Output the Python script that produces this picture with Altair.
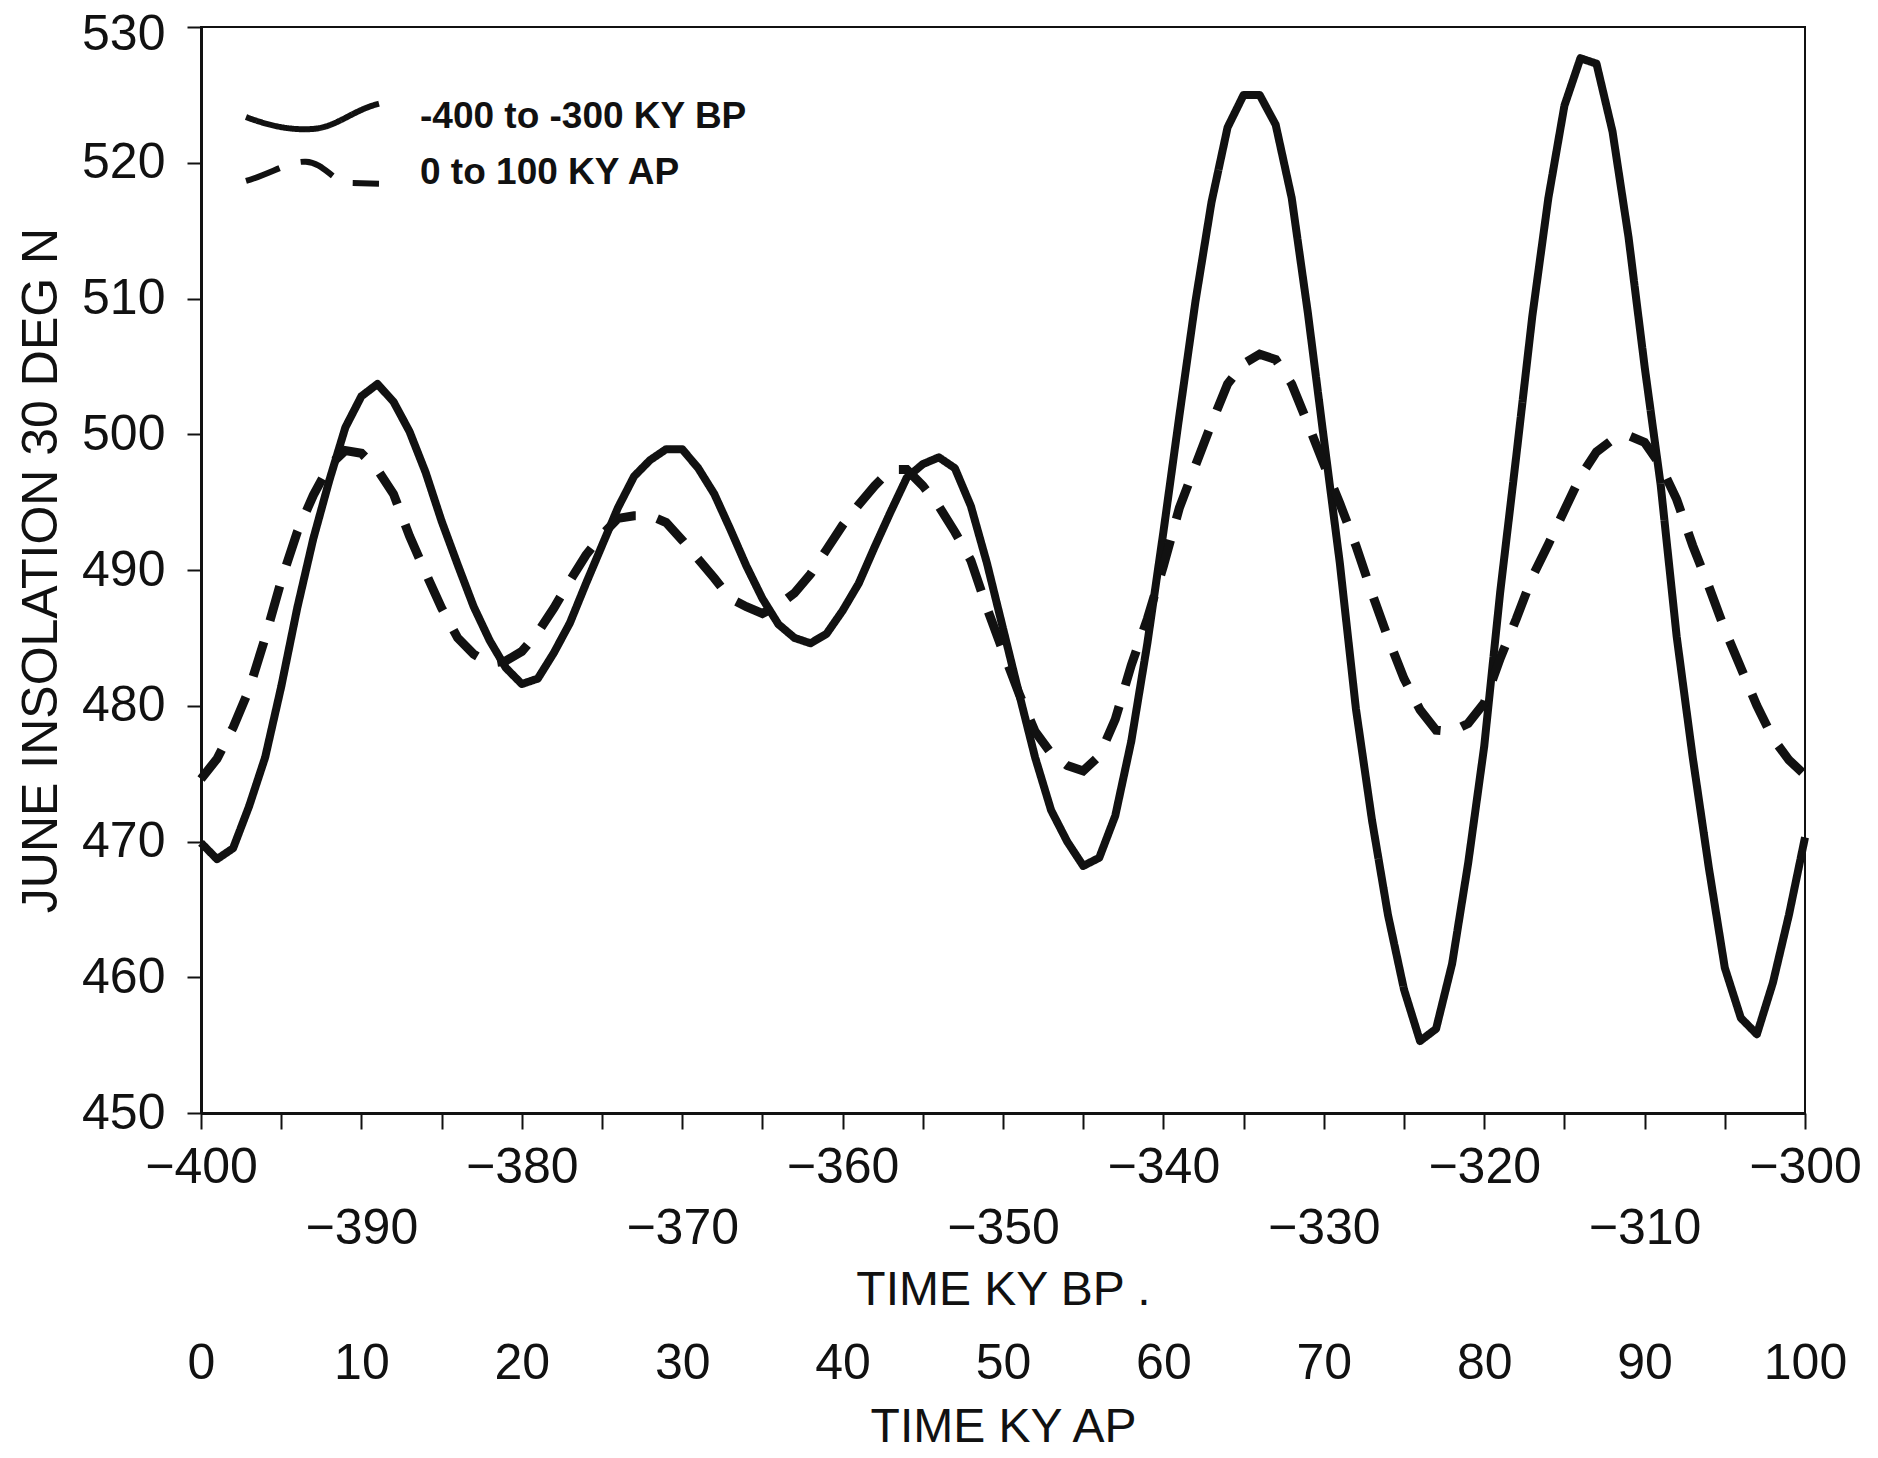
import altair as alt
import pandas as pd

# ---------------- data ----------------
SERIES = ["-400 to -300 KY BP", "0 to 100 KY AP"]

time_bp = list(range(-400, -299))   # KY BP, 1 ky steps
time_ap = list(range(0, 101))       # KY AP, 1 ky steps

insol_bp = [469.9, 468.7, 469.5, 472.6, 476.2, 481.4, 487.2, 492.3, 496.6, 500.5,
            502.8, 503.7, 502.4, 500.2, 497.2, 493.6, 490.4, 487.3, 484.8, 482.8,
            481.6, 482.0, 483.9, 486.1, 489.0, 491.8, 494.6, 496.9, 498.1, 498.9,
            498.9, 497.5, 495.6, 493.0, 490.3, 487.9, 486.0, 485.0, 484.6, 485.3,
            487.0, 489.0, 491.7, 494.3, 496.8, 497.8, 498.3, 497.5, 494.7, 490.5,
            485.7, 480.9, 476.2, 472.3, 470.0, 468.2, 468.8, 471.9, 477.4, 484.6,
            492.8, 501.4, 509.8, 517.1, 522.6, 525.0, 525.0, 522.8, 517.4, 509.0,
            499.7, 490.5, 479.8, 471.6, 464.6, 459.1, 455.3, 456.2, 461.0, 468.4,
            477.0, 488.4, 498.4, 508.7, 517.4, 524.2, 527.7, 527.3, 522.3, 514.5,
            505.0, 496.3, 485.1, 476.2, 468.1, 460.7, 457.0, 455.8, 459.6, 464.6,
            470.3]

insol_ap = [474.6, 476.1, 478.4, 481.2, 485.0, 489.2, 492.8, 495.5, 497.7, 498.8,
            498.6, 497.4, 495.6, 492.5, 489.8, 487.2, 485.0, 483.8, 483.1, 483.3,
            484.0, 485.4, 487.2, 489.2, 491.1, 492.6, 493.8, 494.0, 494.0, 493.5,
            492.2, 490.8, 489.4, 487.9, 487.3, 486.8, 487.4, 488.3, 489.7, 491.5,
            493.3, 494.8, 496.2, 497.4, 497.4, 496.2, 494.7, 492.8, 490.7, 487.2,
            484.0, 480.9, 478.1, 476.5, 475.6, 475.2, 476.3, 479.0, 483.0, 486.4,
            490.3, 494.6, 497.7, 500.8, 503.7, 505.2, 505.9, 505.5, 503.7, 500.8,
            497.8, 494.9, 491.8, 488.3, 485.0, 482.0, 479.7, 478.2, 478.1, 478.7,
            480.2, 483.5, 486.4, 489.5, 491.9, 494.4, 496.9, 498.7, 499.6, 499.9,
            499.4, 497.7, 495.2, 491.8, 488.8, 485.6, 482.8, 480.0, 477.6, 476.0,
            474.9]

y_ticks = list(range(450, 531, 10))
bp_ticks = list(range(-400, -299, 5))
ap_ticks = list(range(0, 101, 10))

solid_df = pd.DataFrame({"bp": time_bp, "value": insol_bp, "series": SERIES[0]})
dashed_df = pd.DataFrame({"ap": time_ap, "value": insol_ap, "series": SERIES[1]})

# ---------------- styling ----------------
FONT = "Liberation Sans"
INK = "#111111"

PATH_SOLID = "M-1,0 C-0.6,0.15 -0.3,0.2 0,0.18 C0.35,0.16 0.6,-0.1 1,-0.2"
PATH_DASH = "M-1,0.12 C-0.6,0 -0.35,-0.18 -0.1,-0.17 C0.15,-0.16 0.3,0.1 0.5,0.15 L1,0.16"

y_enc = alt.Y(
    "value:Q",
    scale=alt.Scale(domain=[450, 530], nice=False, zero=False),
    axis=alt.Axis(
        values=y_ticks, grid=False,
        tickSize=14, tickWidth=2, tickColor=INK,
        domainColor=INK, domainWidth=3,
        labelFont=FONT, labelFontSize=50, labelColor=INK, labelPadding=22,
        labelOffset={"condition": {"test": "datum.value == 530", "value": 7}, "value": 0},
        title="JUNE INSOLATION 30 DEG N", titleFont=FONT, titleFontSize=50,
        titleFontWeight="normal", titleColor=INK, titlePadding=15,
    ),
)

dash_enc = alt.StrokeDash(
    "series:N",
    scale=alt.Scale(domain=SERIES, range=[[1, 0], [36, 22]]),
    legend=alt.Legend(
        title=None, orient="none", legendX=42, legendY=62,
        symbolType={"expr": f"datum.value == '{SERIES[0]}' ? '{PATH_SOLID}' : '{PATH_DASH}'"},
        symbolSize=17689, symbolStrokeWidth=6, symbolStrokeColor=INK,
        symbolFillColor="transparent", symbolOffset=0,
        clipHeight=56, rowPadding=0, padding=0,
        labelFont=FONT, labelFontSize=37, labelFontWeight="bold", labelColor=INK,
        labelLimit=900, labelOffset=38,
    ),
)

solid = alt.Chart(solid_df).mark_line(
    color=INK, strokeWidth=8, strokeJoin="round"
).encode(
    x=alt.X(
        "bp:Q",
        scale=alt.Scale(domain=[-400, -300], nice=False, zero=False),
        axis=alt.Axis(
            values=bp_ticks, grid=False,
            labelExpr="datum.value % 10 == 0 ? datum.label : ''",
            tickSize=16, tickWidth=2, tickColor=INK,
            domainColor=INK, domainWidth=3,
            labelFont=FONT, labelFontSize=50, labelColor=INK,
            labelPadding={"condition": {"test": "datum.value % 20 == 0", "value": 13}, "value": 74},
            labelFlush=False, labelOverlap=False,
            title="TIME KY BP .", titleFont=FONT, titleFontSize=48,
            titleFontWeight="normal", titleColor=INK, titlePadding=13,
        ),
    ),
    y=y_enc,
    strokeDash=dash_enc,
)

dashed = alt.Chart(dashed_df).mark_line(
    color=INK, strokeWidth=9, strokeCap="butt"
).encode(
    x=alt.X(
        "ap:Q",
        scale=alt.Scale(domain=[0, 100], nice=False, zero=False),
        axis=alt.Axis(
            orient="bottom", offset=225, values=ap_ticks, grid=False,
            ticks=False, tickSize=0, domain=False,
            labelFont=FONT, labelFontSize=50, labelColor=INK, labelPadding=0,
            labelFlush=False, labelOverlap=False,
            title="TIME KY AP", titleFont=FONT, titleFontSize=48,
            titleFontWeight="normal", titleColor=INK, titlePadding=15,
        ),
    ),
    y=y_enc,
    strokeDash=dash_enc,
)

chart = alt.layer(solid, dashed).resolve_scale(x="independent").properties(
    width=1604,
    height=1086,
    padding={"left": 201, "top": 27, "right": 73, "bottom": 345},
    autosize=alt.AutoSizeParams(type="none"),
    background="white",
).configure_view(stroke=INK, strokeWidth=2)

chart.save("out.html", embed_options={"renderer": "svg", "actions": False})
